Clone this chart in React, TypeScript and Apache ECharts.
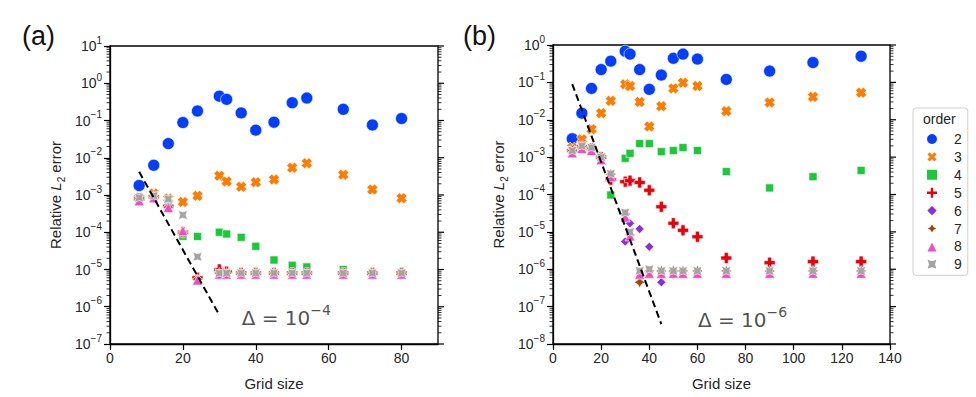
import React, { useEffect, useRef } from 'react';
import * as echarts from 'echarts';

// ---------- data ----------
const orders = ['2', '3', '4', '5', '6', '7', '8', '9'];
const colors = ['#023eff', '#ff7c00', '#1ac938', '#e8000b', '#8b2be2', '#9f4800', '#f14cc1', '#a3a3a3'];

// panel (a): Delta = 1e-4
const gridA = [8, 12, 16, 20, 24, 30, 32, 36, 40, 45, 50, 54, 64, 72, 80];
const a2 = [1.8e-3, 6.3e-3, 0.024, 0.088, 0.18, 0.45, 0.37, 0.16, 0.055, 0.09, 0.30, 0.40, 0.20, 0.076, 0.113];
const a3 = [8.4e-4, 1.1e-3, 8e-4, 6.5e-4, 9.5e-4, 3.3e-3, 2.3e-3, 1.66e-3, 2.2e-3, 2.6e-3, 5.4e-3, 7.1e-3, 3.5e-3, 1.4e-3, 8.2e-4];
const a4 = [8e-4, 9.5e-4, 5.9e-4, 7.8e-5, 7.7e-5, 1.0e-4, 9e-5, 7.3e-5, 4.2e-5, 1.8e-5, 1.3e-5, 1.17e-5, 1.0e-5, 8e-6, 8e-6];
const a5 = [8e-4, 9e-4, 5e-4, 1e-4, 6e-6, 1e-5, 8.7e-6, 8e-6, 8e-6, 8e-6, 8e-6, 8e-6, 8e-6, 8e-6, 8e-6];
const a6 = [8e-4, 9e-4, 5e-4, 1e-4, 5.5e-6, 8e-6, 8e-6, 8e-6, 8e-6, 8e-6, 8e-6, 8e-6, 8e-6, 8e-6, 8e-6];
const a7 = [8e-4, 9e-4, 4.7e-4, 1e-4, 5.5e-6, 8e-6, 8e-6, 8e-6, 8e-6, 8e-6, 8e-6, 8e-6, 8e-6, 8e-6, 8e-6];
const a8 = [7e-4, 8.5e-4, 4.6e-4, 1.1e-4, 5.2e-6, 7.5e-6, 7.5e-6, 7.5e-6, 7.5e-6, 7.5e-6, 7.5e-6, 7.5e-6, 7.5e-6, 7.5e-6, 7.5e-6];
const a9 = [8.5e-4, 9.5e-4, 7.8e-4, 2.9e-4, 2.2e-5, 8e-6, 8e-6, 8e-6, 8e-6, 8e-6, 8e-6, 8e-6, 8e-6, 8e-6, 8e-6];
const dashAX = [8, 30];
const dashAY = [4.2e-3, 6e-7];
const noteA = { x: 36, y: 5e-7, exp: '−4' };

// panel (b): Delta = 1e-6
const gridB = [8, 12, 16, 20, 24, 30, 32, 36, 40, 45, 50, 54, 60, 72, 90, 108, 128];
const b2 = [3.1e-3, 0.015, 0.069, 0.22, 0.37, 0.68, 0.57, 0.22, 0.065, 0.157, 0.44, 0.57, 0.42, 0.12, 0.20, 0.34, 0.50];
const b3 = [1.8e-3, 3e-3, 5.6e-3, 0.015, 0.032, 0.089, 0.08, 0.03, 6.6e-3, 0.023, 0.069, 0.098, 0.08, 0.017, 0.029, 0.041, 0.053];
const b4 = [1.5e-3, 1.9e-3, 1.7e-3, 1e-3, 9.7e-5, 9.3e-4, 1.26e-3, 2.3e-3, 2.3e-3, 1.4e-3, 1.5e-3, 1.8e-3, 1.5e-3, 4.1e-4, 1.5e-4, 3e-4, 4.4e-4];
const b5 = [1.5e-3, 1.9e-3, 1.7e-3, 1e-3, 2.5e-4, 2.2e-4, 2.35e-4, 2.1e-4, 1.3e-4, 4.7e-5, 1.7e-5, 1.1e-5, 7.4e-6, 2e-6, 1.5e-6, 1.6e-6, 1.6e-6];
const b6 = [1.5e-3, 1.9e-3, 1.7e-3, 1e-3, 3.5e-4, 5.5e-6, 1.7e-5, 1.2e-5, 4e-6, 4.5e-7, 8.5e-7, 9e-7, 9e-7, 9e-7, 9e-7, 9e-7, 9e-7];
const b7 = [1.5e-3, 1.9e-3, 1.7e-3, 1e-3, 3.5e-4, 3e-5, 8.3e-6, 4.5e-7, 9e-7, 9e-7, 9e-7, 9e-7, 9e-7, 9e-7, 9e-7, 9e-7, 9e-7];
const b8 = [1.3e-3, 1.7e-3, 1.5e-3, 8.5e-4, 3e-4, 2.5e-5, 7.8e-6, 7.4e-7, 7.8e-7, 7.8e-7, 7.8e-7, 7.8e-7, 7.8e-7, 7.8e-7, 7.8e-7, 7.8e-7, 7.8e-7];
const b9 = [1.5e-3, 2e-3, 1.8e-3, 1e-3, 3.6e-4, 3.3e-5, 1e-5, 9.1e-7, 1e-6, 9e-7, 9e-7, 9e-7, 9e-7, 9e-7, 9e-7, 9e-7, 9e-7];
const dashBX = [8, 45];
const dashBY = [0.09, 3.4e-8];
const noteB = { x: 60, y: 4.4e-8, exp: '−6' };

const xTicksA = [0, 20, 40, 60, 80];
const xTicksB = [0, 20, 40, 60, 80, 100, 120, 140];

// ---------- styles ----------
const FONT = 'Liberation Sans, Arial, Helvetica, sans-serif';
const TXT = '#262626';

const PLUS = 'path://M1.9,0 L4.1,0 L4.1,1.9 L6,1.9 L6,4.1 L4.1,4.1 L4.1,6 L1.9,6 L1.9,4.1 L0,4.1 L0,1.9 L1.9,1.9 Z';
const XMARK = 'path://M4.2,0 L6,1.8 L4.8,3 L6,4.2 L4.2,6 L3,4.8 L1.8,6 L0,4.2 L1.2,3 L0,1.8 L1.8,0 L3,1.2 Z';
const STAR4 = 'path://M3,0 L4.1,1.9 L6,3 L4.1,4.1 L3,6 L1.9,4.1 L0,3 L1.9,1.9 Z';
const STAR4X = 'path://M0,0 L3,1 L6,0 L5,3 L6,6 L3,5 L0,6 L1,3 Z';

const symbols = ['circle', XMARK, 'rect', PLUS, 'diamond', STAR4, 'triangle', STAR4X];
const sizes = [12, 11, 8, 11, 9, 11, 10, 9];

const seriesA = [a2, a3, a4, a5, a6, a7, a8, a9];
const seriesB = [b2, b3, b4, b5, b6, b7, b8, b9];

function supLabel(v: number) {
  const e = Math.round(Math.log10(v));
  const s = e < 0 ? '−' + (-e) : String(e);
  return '{b|10}{e|' + s + '}';
}

function makeScatter(name: string, xs: number[], ys: number[], idx: number, k: number) {
  return {
    type: 'scatter',
    name,
    xAxisIndex: idx,
    yAxisIndex: idx,
    symbol: symbols[k],
    symbolSize: sizes[k],
    itemStyle: { color: colors[k], borderColor: '#ffffff', borderWidth: 0.6, opacity: 1 },
    data: xs.map((x, i) => [x, ys[i]]),
    z: 2 + k,
  };
}

const minorVals: number[][] = [];
for (let e = -8; e <= 1; e++) {
  for (let m = 1; m <= 9; m++) {
    minorVals.push([0, m * Math.pow(10, e), m === 1 ? 1 : 0]);
  }
}

function tickSeries(idx: number, xmin: number, xmax: number, ymin: number, ymax: number) {
  return {
    type: 'custom',
    xAxisIndex: idx,
    yAxisIndex: idx,
    silent: true,
    clip: false,
    encode: { x: 0, y: 1 },
    data: minorVals.filter((d) => d[1] >= ymin * 0.999 && d[1] <= ymax * 1.001),
    renderItem: (params: any, api: any) => {
      const v = api.value(1);
      const major = api.value(2) === 1;
      const pl = api.coord([xmin, v]);
      const pr = api.coord([xmax, v]);
      const children: any[] = [];
      const st = { stroke: '#000', lineWidth: major ? 1.2 : 0.8 };
      if (!major) {
        children.push({ type: 'line', shape: { x1: pl[0] - 3.5, y1: pl[1], x2: pl[0], y2: pl[1] }, style: st });
      }
      children.push({ type: 'line', shape: { x1: pr[0], y1: pr[1], x2: pr[0] + (major ? 6 : 3.5), y2: pr[1] }, style: st });
      return { type: 'group', children };
    },
    z: 1,
  };
}

function dashSeries(idx: number, xs: number[], ys: number[]) {
  return {
    type: 'line',
    xAxisIndex: idx,
    yAxisIndex: idx,
    data: xs.map((x, i) => [x, ys[i]]),
    symbol: 'none',
    silent: true,
    lineStyle: { color: '#000', width: 2, type: [7, 4] },
    z: 20,
  };
}

function noteSeries(idx: number, n: { x: number; y: number; exp: string }) {
  return {
    type: 'scatter',
    xAxisIndex: idx,
    yAxisIndex: idx,
    data: [[n.x, n.y]],
    symbolSize: 1,
    silent: true,
    itemStyle: { color: 'rgba(0,0,0,0)' },
    label: {
      show: true,
      position: 'right',
      distance: 0,
      formatter: '{m|Δ = 10}{s|' + n.exp + '}',
      rich: {
        m: { fontFamily: 'DejaVu Sans', fontSize: 20, color: '#222', lineHeight: 30, verticalAlign: 'middle' },
        s: { fontFamily: 'DejaVu Sans', fontSize: 14, color: '#222', lineHeight: 14, verticalAlign: 'top' },
      },
    },
    z: 30,
  };
}

const yRich = {
  b: { fontSize: 14, lineHeight: 22, verticalAlign: 'middle', color: TXT, fontFamily: FONT },
  e: { fontSize: 10, lineHeight: 10, verticalAlign: 'top', color: TXT, fontFamily: FONT },
};

const nameRich = {
  n: { fontSize: 15, lineHeight: 22, verticalAlign: 'middle', color: TXT, fontFamily: FONT },
  i: { fontSize: 15, lineHeight: 22, verticalAlign: 'middle', color: TXT, fontFamily: FONT, fontStyle: 'italic' },
  s: { fontSize: 10, lineHeight: 10, verticalAlign: 'bottom', color: TXT, fontFamily: FONT },
};

function xAxis(idx: number, max: number, ticks: number[]) {
  return {
    type: 'value',
    gridIndex: idx,
    min: 0,
    max,
    interval: 20,
    name: 'Grid size',
    nameLocation: 'middle',
    nameGap: 32,
    nameTextStyle: { fontSize: 15, color: TXT, fontFamily: FONT },
    axisLine: { show: true, onZero: false, lineStyle: { color: '#000', width: 1.3 } },
    axisTick: { show: true, length: 6, customValues: ticks, lineStyle: { color: '#000', width: 1.2 } },
    axisLabel: { show: true, customValues: ticks, fontSize: 14, color: TXT, fontFamily: FONT, margin: 7 },
    splitLine: { show: false },
  };
}

function yAxis(idx: number, min: number, max: number, gap: number) {
  return {
    type: 'log',
    logBase: 10,
    gridIndex: idx,
    min,
    max,
    splitNumber: 8,
    name: '{n|Relative }{i|L}{s|2}{n| error}',
    nameLocation: 'middle',
    nameGap: gap,
    nameTextStyle: { rich: nameRich, fontSize: 15, color: TXT, fontFamily: FONT },
    axisLine: { show: true, lineStyle: { color: '#000', width: 1.3 } },
    axisTick: { show: true, length: 6, lineStyle: { color: '#000', width: 1.2 } },
    axisLabel: { show: true, formatter: supLabel, rich: yRich, margin: 8 },
    minorTick: { show: false },
    splitLine: { show: false },
  };
}

export default function App() {
  const ref = useRef<HTMLDivElement>(null);
  useEffect(() => {
    if (!ref.current) return;
    const chart = echarts.init(ref.current, null, { renderer: 'svg' });
    const series: any[] = [];
    orders.forEach((o, k) => series.push(makeScatter(o, gridA, seriesA[k], 0, k)));
    orders.forEach((o, k) => series.push(makeScatter(o, gridB, seriesB[k], 1, k)));
    series.push(tickSeries(0, 0, 90, 1e-7, 10));
    series.push(tickSeries(1, 0, 140, 1e-8, 1));
    series.push(dashSeries(0, dashAX, dashAY));
    series.push(dashSeries(1, dashBX, dashBY));
    series.push(noteSeries(0, noteA));
    series.push(noteSeries(1, noteB));

    chart.setOption({
      animation: false,
      backgroundColor: '#ffffff',
      textStyle: { fontFamily: FONT },
      grid: [
        { left: 110, top: 46, width: 328, height: 298, show: true, borderColor: '#000', borderWidth: 1.3, backgroundColor: 'transparent' },
        { left: 553, top: 45, width: 337, height: 299, show: true, borderColor: '#000', borderWidth: 1.3, backgroundColor: 'transparent' },
      ],
      xAxis: [xAxis(0, 90, xTicksA), xAxis(1, 140, xTicksB)],
      yAxis: [yAxis(0, 1e-7, 10, 44), yAxis(1, 1e-8, 1, 44)],
      legend: {
        data: orders,
        orient: 'vertical',
        left: 913,
        top: 108,
        padding: [24, 6, 4, 12],
        itemGap: 3.9,
        itemWidth: 12,
        itemHeight: 12,
        borderColor: '#d0d0d0',
        borderWidth: 1,
        borderRadius: 3,
        selectedMode: false,
        textStyle: { fontSize: 14, color: TXT, fontFamily: FONT, padding: [0, 0, 0, 11] },
      },
      graphic: [
        { type: 'text', left: 22, top: 22, style: { text: '(a)', fontSize: 27, fill: '#111', fontFamily: FONT } },
        { type: 'text', left: 463, top: 22, style: { text: '(b)', fontSize: 27, fill: '#111', fontFamily: FONT } },
        { type: 'text', left: 923, top: 112, style: { text: 'order', fontSize: 14, fill: TXT, fontFamily: FONT } },
      ],
      series,
    });
    return () => chart.dispose();
  }, []);
  return <div ref={ref} style={{ position: 'fixed', left: 0, top: 0, width: 976, height: 397 }} />;
}
